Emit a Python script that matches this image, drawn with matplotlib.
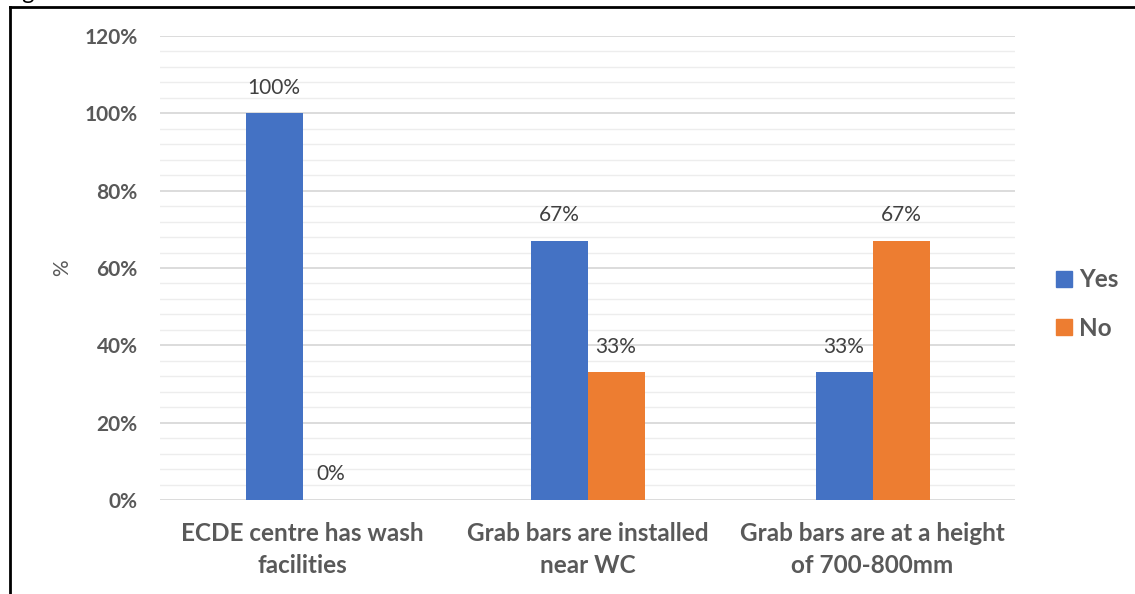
import matplotlib
matplotlib.use("Agg")
import matplotlib.pyplot as plt
from matplotlib.lines import Line2D
import numpy as np

categories = ["ECDE centre has wash\nfacilities",
              "Grab bars are installed\nnear WC",
              "Grab bars are at a height\nof 700-800mm"]
yes_values = [100, 67, 33]
no_values = [0, 33, 67]
series_names = ["Yes", "No"]
y_ticks = [0, 20, 40, 60, 80, 100, 120]

BLUE = "#4472C4"
ORANGE = "#ED7D31"
TEXT = "#595959"

plt.rcParams["font.family"] = ["Lato", "DejaVu Sans"]

W, H = 1135, 594
fig = plt.figure(figsize=(W / 100, H / 100), dpi=100)
ax = fig.add_axes([160 / W, 1 - 500 / H, 855 / W, 464 / H])

x = np.arange(len(categories))
bw = 0.2
b1 = ax.bar(x - bw / 2, yes_values, bw, color=BLUE, label=series_names[0], zorder=3)
b2 = ax.bar(x + bw / 2, no_values, bw, color=ORANGE, label=series_names[1], zorder=3)

for bars, vals in ((b1, yes_values), (b2, no_values)):
    for rect, v in zip(bars, vals):
        ax.text(rect.get_x() + rect.get_width() / 2, v + 6.6, f"{v}%",
                ha="center", va="center", fontsize=15, color="#404040")

ax.set_xlim(-0.5, 2.5)
ax.set_ylim(0, 120)

# minor gridlines every 4 %, major every 20 %
for yv in np.arange(0, 121, 4):
    major = yv % 20 == 0
    ax.axhline(yv, color="#D9D9D9" if major else "#EDEDED",
               lw=1.3 if major else 1.0, zorder=1)

ax.set_yticks(y_ticks)
ax.set_yticklabels([f"{t}%" for t in y_ticks], fontsize=15, fontweight="bold", color=TEXT)
ax.set_xticks(x)
ax.set_xticklabels(categories, fontsize=17.5, fontweight="bold", color=TEXT, linespacing=1.45)
ax.tick_params(axis="both", length=0)
ax.tick_params(axis="y", pad=16)
ax.tick_params(axis="x", pad=16)
for s in ax.spines.values():
    s.set_visible(False)

fig.text(62 / W, 1 - 268 / H, "%", rotation=90, fontsize=15, color=TEXT,
         ha="center", va="center")

handles = [Line2D([], [], marker="s", ls="", color=BLUE, markersize=11),
           Line2D([], [], marker="s", ls="", color=ORANGE, markersize=11)]
leg = fig.legend(handles, series_names, loc="center left",
                 bbox_to_anchor=(1052 / W, 1 - 304 / H), frameon=False,
                 borderpad=0, borderaxespad=0, handlelength=1.0,
                 handletextpad=0.1, labelspacing=1.05,
                 prop={"size": 17.5, "weight": "bold"})
for t in leg.get_texts():
    t.set_color(TEXT)

# surrounding frame
fig.add_artist(Line2D([10 / W, 10 / W], [0, 1 - 7 / H], color="black", lw=2,
                      transform=fig.transFigure))
fig.add_artist(Line2D([10 / W, 1], [1 - 7 / H, 1 - 7 / H], color="black", lw=2,
                      transform=fig.transFigure))
fig.text(4 / W, 1 + 1 / H, "Figure", fontsize=17, color="black", va="baseline", ha="left")

fig.savefig("out.png", dpi=100)
